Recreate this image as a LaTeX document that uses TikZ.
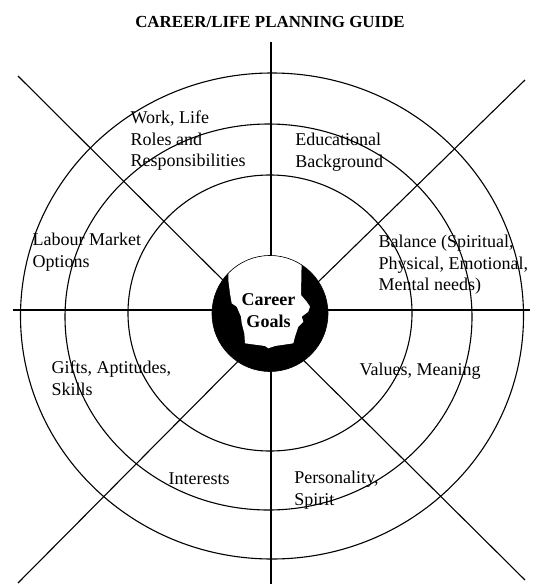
\documentclass[tikz,border=0pt]{standalone}
\usepackage{fontspec}
\setmainfont{Liberation Serif}
\begin{document}
\begin{tikzpicture}[x=1pt,y=-1pt,line width=1.1pt,
  lbl/.style={anchor=base west,align=left,inner sep=0pt,font=\fontsize{18}{21.5}\selectfont},
  ring/.style={line width=1.1pt},
  spoke/.style={line width=1.1pt}]
\useasboundingbox (0,0) rectangle (544,584);
% title
\node[anchor=base,inner sep=0pt,font=\bfseries\fontsize{16.9}{20}\selectfont] (title) at (270,27) {CAREER/LIFE PLANNING GUIDE};
% spokes
\coordinate (hub) at (271,328);
\coordinate (ul) at (18,76);
\coordinate (ur) at (525,80);
\coordinate (ll) at (18,583);
\coordinate (lr) at (525,580);
\coordinate (top) at (271,42);
\coordinate (bot) at (271,584);
\coordinate (lft) at (13,310);
\coordinate (rgt) at (530,310);
\draw[spoke] (ul) -- (hub);
\draw[spoke] (ur) -- (hub);
\draw[spoke] (ll) -- (hub);
\draw[spoke] (lr) -- (hub);
\draw[spoke] (top) -- (bot);
\draw[spoke] (lft) -- (rgt);
% rings
\draw[ring] (270,313) ellipse [x radius=142pt, y radius=138pt];
\draw[ring] (268.5,317) ellipse [x radius=203.5pt, y radius=193pt];
\draw[ring] (272,316) ellipse [x radius=251.5pt, y radius=243pt];
% centre disc
\begin{scope}[shift={(270,313.5)},yscale=-1]
  \fill[black] (0,0) circle[radius=58pt];
  \fill[white] (57:58) arc[start angle=57,end angle=136,radius=58]
    -- (-41.7,33.5) -- (-40,20.2) -- (-38.3,10.2) -- (-33.3,6.8) -- (-29,-3.2)
    -- (-28.3,-9.8) -- (-25.7,-19.8) -- (-25,-29.8) -- (-5,-32.5) -- (-1.7,-34.8)
    -- (5,-32.5) -- (23.3,-29.8) -- (25,-23.2) -- (28.3,-13.2) -- (33.3,-8.2)
    -- (31.7,-3.2) -- (38.3,1.8) -- (40,6.8) -- (36.7,11.8) -- (31,18.5) -- cycle;
  \draw[line width=0.6pt] (0,0) circle[radius=58pt];
\end{scope}
\node[anchor=base,align=center,inner sep=0pt,font=\bfseries\fontsize{18}{22.7}\selectfont] (goals) at (268.5,327.7) {Career\\Goals};
% labels (anchored at the baseline of the last line)
\node[lbl] (work) at (130,166.7) {Work, Life\\Roles and\\Responsibilities};
\node[lbl] (edu) at (294.7,167) {Educational\\Background};
\node[lbl] (labour) at (32,267) {Labour Market\\Options};
\node[lbl] (balance) at (378,290.7) {Balance (Spiritual,\\Physical, Emotional,\\Mental needs)};
\node[lbl] (gifts) at (51,395) {Gifts, Aptitudes,\\Skills};
\node[lbl] (values) at (359,375.3) {Values, Meaning};
\node[lbl] (interests) at (168,484.7) {Interests};
\node[lbl] (person) at (293.7,505.3) {Personality,\\Spirit};
\end{tikzpicture}
\end{document}
